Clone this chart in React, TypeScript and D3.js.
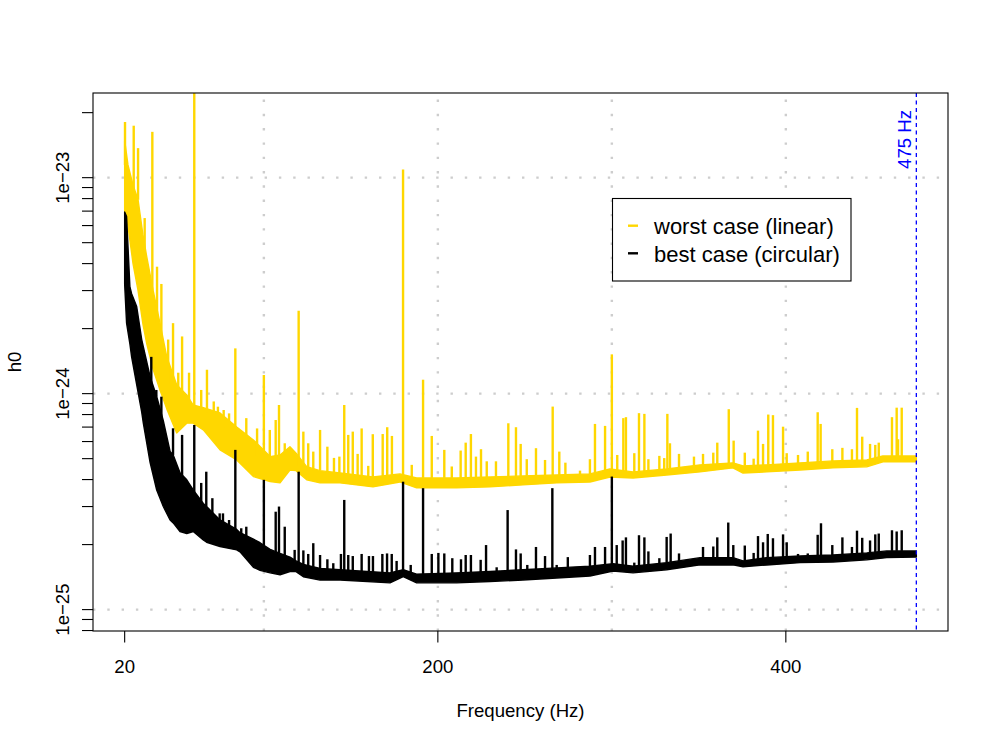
import * as d3 from "d3";

// h0 sensitivity band: [frequency Hz, upper edge, lower edge]
const WORST_BAND: [number, number, number][] = [
  [20, 1.49e-23, 7.0e-24], [21.9, 1.145e-23, 6.0e-24], [24.8, 9.25e-24, 4.0e-24],
  [27.7, 7.9e-24, 3.0e-24], [30.5, 5.43e-24, 2.1e-24], [32.7, 4.3e-24, 1.7e-24],
  [36.3, 3.02e-24, 1.3e-24], [40.3, 2.12e-24, 1.04e-24], [44.2, 1.48e-24, 8.5e-25],
  [49.9, 1.1e-24, 6.58e-25], [55.7, 9.86e-25, 7.3e-25], [59.3, 8.86e-25, 7.3e-25],
  [65.2, 8.6e-25, 6.8e-25], [74.8, 8.14e-25, 5.49e-25], [84.4, 7.0e-25, 4.93e-25],
  [94, 6.1e-25, 4.13e-25], [103.6, 5.11e-25, 3.92e-25], [109.3, 5.2e-25, 3.86e-25],
  [115, 5.68e-25, 4.43e-25], [118.5, 5.3e-25, 4.4e-25], [124.6, 4.59e-25, 3.99e-25],
  [132.3, 4.4e-25, 3.86e-25], [143.8, 4.29e-25, 3.86e-25], [162.7, 4.11e-25, 3.7e-25],
  [178.2, 4.25e-25, 3.9e-25], [187.8, 4.07e-25, 3.66e-25], [210.8, 4.07e-25, 3.66e-25],
  [230, 4.11e-25, 3.7e-25], [248.9, 4.16e-25, 3.78e-25], [268.3, 4.2e-25, 3.86e-25],
  [287.4, 4.25e-25, 3.9e-25], [298.9, 4.48e-25, 4.11e-25], [312.2, 4.34e-25, 4.07e-25],
  [331.5, 4.48e-25, 4.2e-25], [350.7, 4.68e-25, 4.34e-25], [369.6, 4.78e-25, 4.53e-25],
  [375.4, 4.63e-25, 4.29e-25], [389, 4.68e-25, 4.34e-25], [408.2, 4.78e-25, 4.43e-25],
  [427.1, 4.88e-25, 4.53e-25], [446.5, 4.93e-25, 4.58e-25], [455.8, 5.14e-25, 4.83e-25],
  [475, 5.14e-25, 4.83e-25],
];

const BEST_BAND: [number, number, number][] = [
  [20, 6.94e-24, 3.2e-24], [21.1, 6.6e-24, 2.12e-24], [23, 3.13e-24, 1.7e-24],
  [24, 2.9e-24, 1.48e-24], [26.9, 2.53e-24, 1.1e-24], [29.8, 1.78e-24, 8.2e-25],
  [30.7, 1.65e-24, 7.32e-25], [34.6, 1.2e-24, 4.81e-25], [38.4, 9.7e-25, 3.58e-25],
  [42.2, 7.5e-25, 3.0e-25], [46.1, 5.4e-25, 2.6e-25], [47.9, 5.2e-25, 2.52e-25],
  [51.8, 4.3e-25, 2.3e-25], [55.7, 3.99e-25, 2.25e-25], [59.4, 3.58e-25, 2.3e-25],
  [65.2, 3.1e-25, 2.1e-25], [67.1, 3.0e-25, 2.05e-25], [74.8, 2.6e-25, 1.96e-25],
  [84.4, 2.35e-25, 1.89e-25], [86.3, 2.27e-25, 1.85e-25], [94, 2.12e-25, 1.57e-25],
  [97.8, 2.04e-25, 1.52e-25], [103.6, 1.9e-25, 1.48e-25], [109.3, 1.82e-25, 1.45e-25],
  [115, 1.75e-25, 1.5e-25], [118.5, 1.68e-25, 1.5e-25], [122.7, 1.62e-25, 1.42e-25],
  [132.3, 1.55e-25, 1.37e-25], [143.8, 1.53e-25, 1.37e-25], [172.5, 1.48e-25, 1.33e-25],
  [180.1, 1.53e-25, 1.42e-25], [187.8, 1.46e-25, 1.33e-25], [210.8, 1.48e-25, 1.33e-25],
  [230, 1.5e-25, 1.35e-25], [248.9, 1.53e-25, 1.37e-25], [268.3, 1.56e-25, 1.4e-25],
  [287.4, 1.59e-25, 1.43e-25], [300.7, 1.63e-25, 1.51e-25], [312.2, 1.59e-25, 1.48e-25],
  [331.5, 1.65e-25, 1.53e-25], [350.7, 1.74e-25, 1.61e-25], [369.6, 1.74e-25, 1.61e-25],
  [375.4, 1.68e-25, 1.58e-25], [389, 1.74e-25, 1.61e-25], [408.2, 1.77e-25, 1.65e-25],
  [427.1, 1.79e-25, 1.66e-25], [446.5, 1.83e-25, 1.7e-25], [458, 1.87e-25, 1.74e-25],
  [475, 1.87e-25, 1.75e-25],
];

// narrow spectral lines: [frequency Hz, peak h0]
const WORST_LINES: [number, number][] = [
  [20.2, 1.81e-23], [25.2, 1.74e-23], [27.7, 1.37e-23], [31.5, 6.5e-24], [35.9, 1.63e-23],
  [38.6, 3.87e-24], [41.1, 3.22e-24], [45, 1.78e-24], [47.8, 2.12e-24], [50.8, 1.25e-24],
  [53, 1.84e-24], [57, 1.25e-24], [60, 3e-23],
  [64, 1.04e-24], [67.3, 1.29e-24], [71.2, 9.2e-25], [73.6, 8.7e-25], [76.9, 8.4e-25],
  [80, 8.1e-25], [83.6, 1.62e-24], [89.9, 7.7e-25], [96.1, 6.9e-25], [100, 1.22e-24],
  [103.4, 6.79e-25], [106.8, 7.55e-25], [108.7, 8.86e-25], [112, 5.89e-25], [116.3, 5.3e-25],
  [120, 2.42e-24], [122.7, 6.67e-25], [125.5, 5.89e-25], [128.4, 5.39e-25], [132.3, 6.79e-25],
  [136.5, 5.68e-25], [140.3, 5.04e-25], [143.4, 5.11e-25], [146.2, 8.86e-25], [148.5, 6.44e-25],
  [151.1, 6.67e-25], [153.9, 5.26e-25], [156.2, 6.9e-25], [160, 4.63e-25], [162.6, 6.49e-25],
  [168.3, 6.5e-25], [170.9, 6.99e-25], [173.6, 6.37e-25], [180, 1.09e-23], [185, 4.68e-25],
  [191.5, 1.16e-24], [196.5, 6.37e-25], [203.7, 5.49e-25], [208, 4.6e-25], [213.1, 5.45e-25],
  [216, 5.93e-25], [219, 6.5e-25], [221.9, 5.11e-25], [224.8, 5.53e-25], [228.1, 4.86e-25],
  [233.4, 4.86e-25], [240.5, 7.29e-25], [244.9, 6.99e-25], [247.6, 5.85e-25], [251.1, 4.97e-25],
  [256.4, 5.59e-25], [261.6, 4.93e-25], [266, 8.71e-25], [269.8, 5.39e-25], [273.3, 4.79e-25],
  [281.7, 4.4e-25], [287.4, 4.97e-25], [290.3, 7.24e-25], [296.1, 7.09e-25], [300, 1.52e-24],
  [303.1, 5.2e-25], [306.6, 7.7e-25], [308.1, 7.78e-25], [312.9, 5.3e-25], [315.6, 8.12e-25],
  [318.7, 8.06e-25], [321, 4.97e-25], [327.3, 5.15e-25], [330.1, 5.03e-25], [331.9, 8.06e-25],
  [333.4, 5.89e-25], [338.6, 5.26e-25], [347.2, 5.11e-25], [352.4, 5.26e-25], [358.3, 5.33e-25],
  [360.6, 5.93e-25], [367.2, 8.47e-25], [370, 6.06e-25], [376.4, 5.33e-25], [381.5, 5.0e-25],
  [384, 6.74e-25], [386.9, 5.85e-25], [389.9, 8.0e-25], [392.6, 7.95e-25], [398.4, 7.03e-25],
  [400.5, 5.3e-25], [407, 5.2e-25], [412.6, 5.39e-25], [418.3, 8.2e-25], [420, 7.24e-25],
  [426.7, 5.53e-25], [432.5, 5.61e-25], [438, 5.53e-25], [440.9, 8.59e-25], [443.9, 6.32e-25],
  [448.4, 5.85e-25], [451.4, 5.79e-25], [453.4, 5.93e-25], [461, 7.78e-25], [463.7, 8.61e-25],
  [464.5, 6.15e-25], [466.6, 8.61e-25], [469.5, 5.02e-25],
];

const BEST_LINES: [number, number][] = [
  [35.3, 1.48e-24], [38.2, 1.04e-24], [41.1, 9.68e-25], [47.8, 6.91e-25], [53, 6.44e-25],
  [60, 7.16e-25], [64, 3.86e-25], [66.9, 4.35e-25], [70.4, 3.28e-25], [74.6, 2.79e-25],
  [76.5, 2.79e-25], [80, 2.6e-25], [83.6, 5.49e-25], [87, 2.38e-25], [89.9, 2.42e-25],
  [94.2, 2.07e-25], [100, 3.99e-25], [106.8, 2.84e-25], [108.7, 3.0e-25], [112, 2.42e-25],
  [117.7, 1.89e-25], [120, 4.35e-25], [122.7, 1.88e-25], [125.5, 1.81e-25], [128.4, 2.03e-25],
  [132.3, 1.79e-25], [136.5, 1.71e-25], [139.9, 1.64e-25], [144.3, 1.81e-25], [146.2, 3.22e-25],
  [148.5, 1.79e-25], [151.1, 1.77e-25], [156.2, 1.81e-25], [160.4, 1.77e-25], [162.7, 1.77e-25],
  [168.1, 1.81e-25], [170.8, 1.82e-25], [173.5, 1.81e-25], [176.3, 1.68e-25], [180, 3.91e-25],
  [184.4, 1.61e-25], [191.5, 3.65e-25], [196.5, 1.81e-25], [200.3, 1.83e-25], [203.7, 1.82e-25],
  [208.3, 1.73e-25], [213.3, 1.71e-25], [216, 1.79e-25], [219, 1.79e-25], [224.6, 1.7e-25],
  [227.7, 1.99e-25], [233.8, 1.57e-25], [240.1, 2.89e-25], [244.9, 1.9e-25], [247.6, 1.82e-25],
  [251.4, 1.61e-25], [256.4, 1.95e-25], [261.6, 1.77e-25], [265.8, 3.65e-25], [268.3, 1.61e-25],
  [274.7, 1.75e-25], [287.4, 1.79e-25], [290.3, 1.95e-25], [296.1, 1.95e-25], [300, 4.13e-25],
  [302.8, 1.99e-25], [306.2, 2.09e-25], [308.1, 2.16e-25], [312.9, 1.65e-25], [315.6, 2.21e-25],
  [318.7, 2.16e-25], [321, 1.86e-25], [327.3, 1.73e-25], [331.5, 2.17e-25], [333.8, 2.25e-25],
  [338.6, 1.82e-25], [352.4, 1.95e-25], [358.3, 1.96e-25], [360.6, 2.16e-25], [366.9, 2.53e-25],
  [369.8, 1.99e-25], [376.4, 1.98e-25], [381.5, 1.83e-25], [384, 2.19e-25], [386.9, 2.05e-25],
  [389.6, 2.24e-25], [392.6, 2.14e-25], [398.4, 2.23e-25], [400.5, 2.05e-25], [407, 1.81e-25],
  [412.6, 1.82e-25], [418.3, 2.22e-25], [420.2, 2.51e-25], [426.7, 1.99e-25], [432.5, 2.16e-25],
  [438, 1.95e-25], [440.9, 2.32e-25], [443.9, 2.15e-25], [448.4, 2.09e-25], [451.4, 2.23e-25],
  [453.4, 2.25e-25], [461, 2.33e-25], [463.7, 2.3e-25], [466.6, 2.33e-25],
];

const X_LIM = [1.8, 493.2];
const Y_LIM = [7.96e-26, 2.466e-23];
const X_TICKS = [20, 200, 400];
const X_GRID = [100, 200, 300, 400];
const Y_LABELS = [1e-25, 1e-24, 1e-23];
const Y_LABEL_TEXT = ["1e\u221225", "1e\u221224", "1e\u221223"];
const CUTOFF = 475;
const LEGEND = [
  { label: "worst case (linear)", color: "#FFD700" },
  { label: "best case (circular)", color: "#000000" },
];

const W = 997, H = 747;
const P = { l: 93, r: 948, t: 93, b: 631 };
const FONT = "'Liberation Sans', Arial, Helvetica, sans-serif";
const FS = 18.6;

const x = d3.scaleLinear().domain(X_LIM).range([P.l, P.r]);
const y = d3.scaleLog().domain(Y_LIM).range([P.b, P.t]);

// minor log ticks 1..9 x 10^k inside the range
const Y_TICKS: number[] = [];
for (let e = -26; e <= -23; e++) for (let k = 1; k <= 9; k++) {
  const v = k * Math.pow(10, e);
  if (v >= Y_LIM[0] && v <= Y_LIM[1]) Y_TICKS.push(v);
}

const band = d3.area<[number, number, number]>().x(d => x(d[0])).y0(d => y(d[2])).y1(d => y(d[1]));
const bis = d3.bisector((d: [number, number, number]) => d[0]).left;
function baseAt(b: [number, number, number][], f: number) {
  const i = bis(b, f);
  const a = b[Math.max(0, i - 1)], c = b[Math.min(b.length - 1, i)];
  return Math.min(a[1], c[1]);
}

function Series({ data, lines, color }: { data: [number, number, number][]; lines: [number, number][]; color: string }) {
  return (
    <g>
      <path d={band(data)!} fill={color} stroke={color} strokeWidth={1.4} strokeLinejoin="round" />
      {lines.map(([f, h], i) => (
        <line key={i} x1={x(f)} x2={x(f)} y1={y(baseAt(data, f))} y2={y(h)} stroke={color} strokeWidth={2.4} />
      ))}
    </g>
  );
}

export default function App() {
  const dot = { stroke: "#CDCDCD", strokeWidth: 2.4, strokeDasharray: "2.4 11.9" };
  return (
    <svg width={W} height={H} style={{ position: "absolute", left: 0, top: 0, background: "#fff" }} fontFamily={FONT}>
      <defs>
        <clipPath id="plot"><rect x={P.l} y={P.t} width={P.r - P.l} height={P.b - P.t} /></clipPath>
      </defs>
      <g clipPath="url(#plot)">
        {X_GRID.map(v => <line key={v} x1={x(v)} x2={x(v)} y1={P.b} y2={P.t} {...dot} />)}
        {Y_LABELS.map(v => <line key={v} x1={P.l} x2={P.r} y1={y(v)} y2={y(v)} {...dot} />)}
      </g>
      <g clipPath="url(#plot)">
        <Series data={WORST_BAND} lines={WORST_LINES} color="#FFD700" />
        <Series data={BEST_BAND} lines={BEST_LINES} color="#000000" />
        <line x1={x(CUTOFF)} x2={x(CUTOFF)} y1={P.t} y2={P.b} stroke="#0000FF" strokeWidth={1.3} strokeDasharray="4 3.5" />
      </g>
      <text transform={`translate(${x(CUTOFF) - 5.5},110) rotate(-90)`} textAnchor="end" fontSize={FS} fill="#0000FF">475 Hz</text>
      <rect x={P.l} y={P.t} width={P.r - P.l} height={P.b - P.t} fill="none" stroke="#000" strokeWidth={1.1} />

      {/* x axis */}
      {X_TICKS.map(v => (
        <g key={v}>
          <line x1={x(v)} x2={x(v)} y1={P.b} y2={P.b + 11.5} stroke="#000" strokeWidth={1.1} />
          <text x={x(v)} y={672.5} textAnchor="middle" fontSize={FS}>{v}</text>
        </g>
      ))}
      <text x={(P.l + P.r) / 2} y={716.5} textAnchor="middle" fontSize={FS}>Frequency (Hz)</text>

      {/* y axis */}
      {Y_TICKS.map((v, i) => <line key={i} x1={P.l - 11} x2={P.l} y1={y(v)} y2={y(v)} stroke="#000" strokeWidth={1.1} />)}
      {Y_LABELS.map((v, i) => (
        <text key={v} transform={`translate(68.5,${y(v)}) rotate(-90)`} textAnchor="middle" fontSize={FS}>{Y_LABEL_TEXT[i]}</text>
      ))}
      <text transform={`translate(20.5,${(P.t + P.b) / 2}) rotate(-90)`} textAnchor="middle" fontSize={FS}>h0</text>

      {/* legend */}
      <rect x={612.5} y={198.5} width={238.5} height={82.5} fill="#fff" stroke="#000" strokeWidth={1.1} />
      {LEGEND.map((d, i) => (
        <g key={d.label}>
          <line x1={628} x2={638} y1={225.7 + i * 27.6} y2={225.7 + i * 27.6} stroke={d.color} strokeWidth={2.4} />
          <text x={654} y={234 + i * 27.6} fontSize={22}>{d.label}</text>
        </g>
      ))}
    </svg>
  );
}
